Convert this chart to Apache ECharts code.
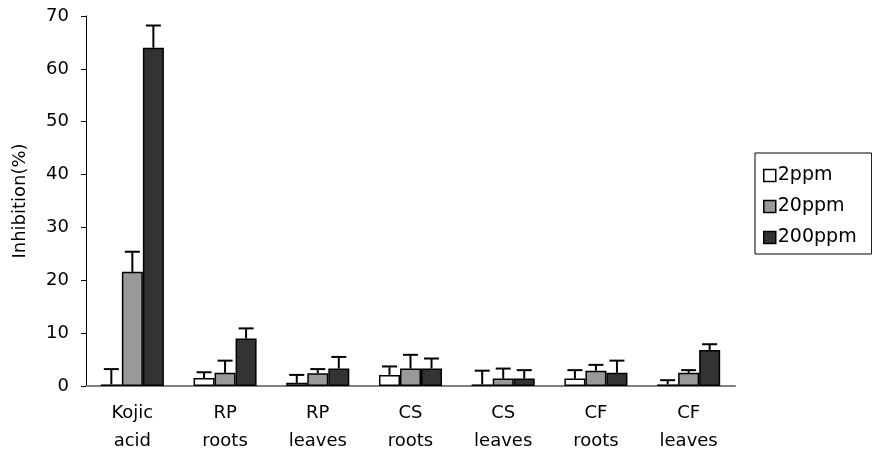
<!DOCTYPE html>
<html>
<head>
<meta charset="utf-8">
<script src="https://cdn.jsdelivr.net/npm/echarts@6/dist/echarts.min.js"></script>
<style>
  html, body { margin: 0; padding: 0; background: #fff; }
  #chart { width: 872px; height: 462px; }
</style>
</head>
<body>
<div id="chart"></div>
<script>
// categories and values
var categories = ['Kojic\nacid', 'RP\nroots', 'RP\nleaves', 'CS\nroots', 'CS\nleaves', 'CF\nroots', 'CF\nleaves'];
var seriesNames = ['2ppm', '20ppm', '200ppm'];
var ppm2 = [0.3, 1.5, 0.6, 2.1, 0.3, 1.4, 0.3];
var ppm20 = [21.6, 2.5, 2.4, 3.3, 1.4, 2.9, 2.5];
var ppm200 = [64.0, 9.0, 3.3, 3.3, 1.4, 2.5, 6.8];
var err2 = [2.9, 1.1, 1.5, 1.6, 2.6, 1.6, 0.8];
var err20 = [3.8, 2.3, 0.8, 2.6, 1.9, 1.1, 0.5];
var err200 = [4.2, 1.9, 2.2, 1.9, 1.6, 2.3, 1.1];
var yTicks = [0, 10, 20, 30, 40, 50, 60, 70];

var fills = ['#ffffff', '#999999', '#333333'];
var values = [ppm2, ppm20, ppm200];
var errors = [err2, err20, err200];
var FONT = 'DejaVu Sans';
var GAP = 0.32; // barCategoryGap

var myChart = echarts.init(document.getElementById('chart'));

// error bar drawn on top of bar number idx
function errRender(idx) {
    return function (params, api) {
        var x = api.value(0);
        var v = api.value(1);
        var e = api.value(2);
        var base = api.coord([x, v]);
        var top = api.coord([x, v + e]);
        var band = api.size([1, 0])[0];
        var bw = band * (1 - GAP) / 3;
        var cx = base[0] + (idx - 1) * bw;
        var half = 7.5;
        var st = { stroke: '#000', lineWidth: 2 };
        return {
            type: 'group',
            children: [
                { type: 'line', shape: { x1: cx, y1: base[1], x2: cx, y2: top[1] }, style: st },
                { type: 'line', shape: { x1: cx - half, y1: top[1], x2: cx + half, y2: top[1] }, style: st }
            ]
        };
    };
}

var series = [];
seriesNames.forEach(function (name, i) {
    series.push({
        name: name,
        type: 'bar',
        data: values[i],
        barGap: '0%',
        barCategoryGap: '32%',
        itemStyle: { color: fills[i], borderColor: '#000', borderWidth: 1.5 },
        emphasis: { disabled: true }
    });
});
seriesNames.forEach(function (name, i) {
    series.push({
        name: name + ' err',
        type: 'custom',
        renderItem: errRender(i),
        data: values[i].map(function (v, k) { return [k, v, errors[i][k]]; }),
        encode: { x: 0, y: 1 },
        z: 10,
        silent: true
    });
});

var option = {
    animation: false,
    textStyle: { fontFamily: FONT },
    grid: { left: 86, right: 137, top: 16, bottom: 76 },
    legend: {
        data: seriesNames,
        orient: 'vertical',
        left: 755,
        top: 153,
        icon: 'rect',
        itemWidth: 12,
        itemHeight: 12,
        itemGap: 12,
        padding: [13, 15, 7, 8],
        borderColor: '#000',
        borderWidth: 1,
        borderRadius: 0,
        itemStyle: { borderColor: '#000', borderWidth: 1.5 },
        textStyle: { fontSize: 19, color: '#000', fontFamily: FONT, padding: [0, 0, 0, -3] }
    },
    xAxis: {
        type: 'category',
        data: categories,
        axisLine: { lineStyle: { color: '#808080', width: 2 } },
        axisTick: { show: false },
        axisLabel: {
            color: '#000',
            fontSize: 18,
            lineHeight: 28,
            margin: 13,
            fontFamily: FONT
        }
    },
    yAxis: {
        type: 'value',
        min: 0,
        max: 70,
        interval: 10,
        name: 'Inhibition(%)',
        nameLocation: 'middle',
        nameGap: 57,
        nameRotate: 90,
        nameTextStyle: { fontSize: 18, color: '#000', fontFamily: FONT },
        axisLine: { show: true, lineStyle: { color: '#000', width: 1 } },
        axisTick: { show: true, inside: false, length: 5, lineStyle: { color: '#000' } },
        splitLine: { show: false },
        axisLabel: {
            color: '#000',
            fontSize: 18,
            margin: 17,
            fontFamily: FONT,
            formatter: function (v) { return yTicks.indexOf(v) >= 0 ? String(v) : ''; }
        }
    },
    series: series
};

myChart.setOption(option);
</script>
</body>
</html>
